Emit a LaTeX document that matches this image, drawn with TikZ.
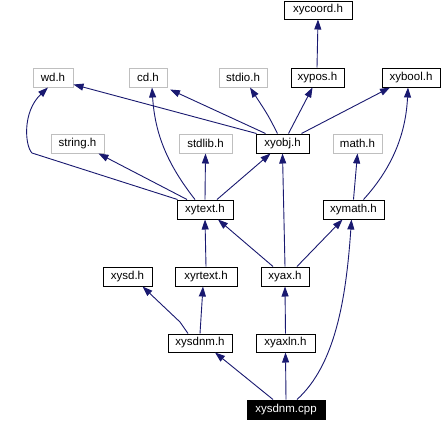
\documentclass[tikz,border=0pt]{standalone}
\usepackage{fontspec}
\setmainfont{Liberation Sans}
\usetikzlibrary{arrows.meta}
\definecolor{edgeblue}{HTML}{191970}
\definecolor{sysgray}{HTML}{BFBFBF}
\begin{document}
\begin{tikzpicture}[x=1pt,y=-1pt,
  filebox/.style={draw=black,line width=1pt,inner sep=0pt,minimum height=19pt,font=\fontsize{11.5}{13}\selectfont},
  sysbox/.style={filebox,draw=sysgray},
  rootbox/.style={filebox,fill=black,text=white},
  dep/.style={draw=edgeblue,line width=0.9pt,-{Triangle[length=10pt,width=7pt,fill=edgeblue]}}
]
\useasboundingbox (0,0) rectangle (442,421);
\fill[white] (0,0) rectangle (442,421);
% nodes
\node[filebox,minimum width=68pt,minimum height=18pt] (xycoord) at (318,10) {xycoord.h};
\node[sysbox,minimum width=40pt] (wd) at (53,77.5) {wd.h};
\node[sysbox,minimum width=38pt] (cd) at (148,77.5) {cd.h};
\node[sysbox,minimum width=48pt] (stdio) at (243,77.5) {stdio.h};
\node[filebox,minimum width=53pt] (xypos) at (317.5,77.5) {xypos.h};
\node[filebox,minimum width=58pt] (xybool) at (411,77.5) {xybool.h};
\node[sysbox,minimum width=53pt] (string) at (77.5,143.5) {string.h};
\node[sysbox,minimum width=53pt] (stdlib) at (205.5,143.5) {stdlib.h};
\node[filebox,minimum width=53pt] (xyobj) at (282.5,143.5) {xyobj.h};
\node[sysbox,minimum width=49pt] (math) at (357.5,143.5) {math.h};
\node[filebox,minimum width=56pt] (xytext) at (205,209.5) {xytext.h};
\node[filebox,minimum width=61pt] (xymath) at (353.5,209.5) {xymath.h};
\node[filebox,minimum width=49pt] (xysd) at (127.5,276.5) {xysd.h};
\node[filebox,minimum width=62pt] (xyrtext) at (206,276.5) {xyrtext.h};
\node[filebox,minimum width=48pt] (xyax) at (285,276.5) {xyax.h};
\node[filebox,minimum width=64pt,minimum height=18pt] (xysdnmh) at (200,343) {xysdnm.h};
\node[filebox,minimum width=59pt,minimum height=18pt] (xyaxln) at (285.5,343) {xyaxln.h};
\node[rootbox,minimum width=78pt] (cpp) at (286,409.5) {xysdnm.cpp};
% edges
\draw[dep] ([xshift=-0.5]xypos.north) -- (xycoord.south);
\draw[dep] ([xshift=1]xyobj.north west) -- ([yshift=3]wd.south east);
\draw[dep] ([xshift=-17]xyobj.north) -- ([xshift=22,yshift=-2]cd.south);
\draw[dep] ([xshift=-5]xyobj.north) .. controls (268,115) .. ([xshift=7]stdio.south);
\draw[dep] ([xshift=6]xyobj.north) -- ([xshift=-5]xypos.south);
\draw[dep] ([xshift=19]xyobj.north) -- ([xshift=-21]xybool.south);
\draw[dep] ([xshift=1]xytext.north west) -- (32,153) .. controls (25,146) and (22,112) .. ([xshift=-5]wd.south);
\draw[dep] ([xshift=-18]xytext.north) -- ([xshift=-6]string.south east);
\draw[dep] ([xshift=-10]xytext.north) .. controls (168,165) and (155,135) .. ([xshift=4]cd.south);
\draw[dep] (xytext.north) -- (stdlib.south);
\draw[dep] ([xshift=12]xytext.north) -- ([xshift=-12]xyobj.south);
\draw[dep] (xymath.north) -- (math.south);
\draw[dep] ([xshift=10]xymath.north) .. controls (395,165) and (406,130) .. ([xshift=-3]xybool.south);
\draw[dep] ([xshift=-12]xyax.north) -- ([xshift=13]xytext.south);
\draw[dep] (xyax.north) -- (xyobj.south);
\draw[dep] ([xshift=12]xyax.north) -- ([xshift=-11]xymath.south);
\draw[dep] (xyrtext.north) -- (xytext.south);
\draw[dep] ([xshift=-12]xysdnmh.north) -- (180,322) -- ([xshift=15]xysd.south);
\draw[dep] (xysdnmh.north) -- ([xshift=-3]xyrtext.south);
\draw[dep] (xyaxln.north) -- (xyax.south);
\draw[dep] ([xshift=-13]cpp.north) -- ([xshift=15]xysdnmh.south);
\draw[dep] (cpp.north) -- (xyaxln.south);
\draw[dep] ([xshift=11]cpp.north) .. controls (335,365) and (346,300) .. ([xshift=-2]xymath.south);
\end{tikzpicture}
\end{document}
